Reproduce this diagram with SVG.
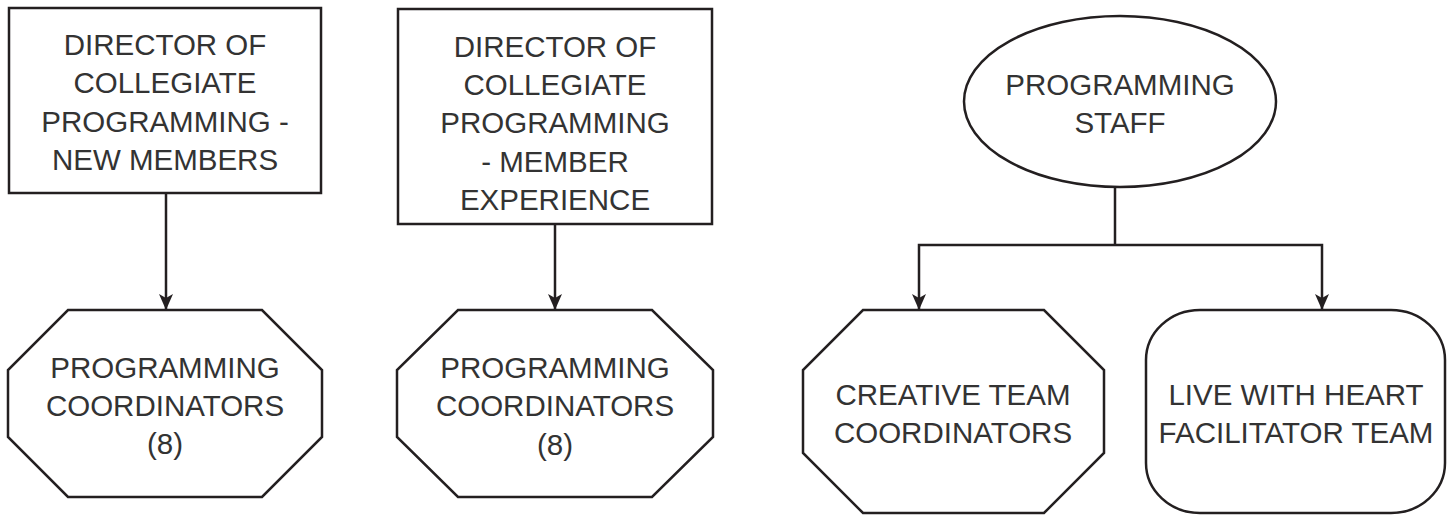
<svg xmlns="http://www.w3.org/2000/svg" width="1453" height="515" viewBox="0 0 1453 515">
<style>
.shape{fill:#fff;stroke:#231f20;stroke-width:2.5}
.conn{fill:none;stroke:#231f20;stroke-width:2.5}
.t{font-family:"Liberation Sans",Arial,sans-serif;font-size:29.5px;fill:#333;text-anchor:middle}
</style>
<defs>
<marker id="arr" markerUnits="userSpaceOnUse" markerWidth="16" markerHeight="14" viewBox="0 0 16 14" refX="15" refY="7" orient="auto">
<path d="M0,0 L16,7 L0,14 L4,7 Z" fill="#231f20"/>
</marker>
</defs>
<rect width="1453" height="515" fill="#fff"/>
<g id="connectors">
<path class="conn" d="M166,193 V309" marker-end="url(#arr)"/>
<path class="conn" d="M555,224 V309" marker-end="url(#arr)"/>
<path class="conn" d="M1115,187 V245"/>
<path class="conn" d="M1115,245 H919 V309" marker-end="url(#arr)"/>
<path class="conn" d="M1115,245 H1322 V309" marker-end="url(#arr)"/>
</g>
<g id="dir-new-members">
<rect class="shape" x="9" y="8" width="312" height="185"/>
<text class="t" x="165" y="55">DIRECTOR OF</text>
<text class="t" x="165" y="93">COLLEGIATE</text>
<text class="t" x="165" y="132">PROGRAMMING -</text>
<text class="t" x="165" y="170">NEW MEMBERS</text>
</g>
<g id="dir-member-experience">
<rect class="shape" x="398" y="9" width="314" height="215"/>
<text class="t" x="555" y="57">DIRECTOR OF</text>
<text class="t" x="555" y="95">COLLEGIATE</text>
<text class="t" x="555" y="133">PROGRAMMING</text>
<text class="t" x="555" y="172">- MEMBER</text>
<text class="t" x="555" y="210">EXPERIENCE</text>
</g>
<g id="coord-1">
<polygon class="shape" points="68,310 262,310 322,370 322,437 262,497 68,497 8,437 8,370"/>
<text class="t" x="165" y="378">PROGRAMMING</text>
<text class="t" x="165" y="416">COORDINATORS</text>
<text class="t" x="165" y="454">(8)</text>
</g>
<g id="coord-2">
<polygon class="shape" points="458,310 652,310 713,370 713,437 652,497 458,497 397,437 397,370"/>
<text class="t" x="555" y="378">PROGRAMMING</text>
<text class="t" x="555" y="416">COORDINATORS</text>
<text class="t" x="555" y="455">(8)</text>
</g>
<g id="programming-staff">
<ellipse class="shape" cx="1120" cy="101.5" rx="156" ry="85.5"/>
<text class="t" x="1120" y="95">PROGRAMMING</text>
<text class="t" x="1120" y="133">STAFF</text>
</g>
<g id="creative-team">
<polygon class="shape" points="863,310 1044,310 1104,370 1104,453 1044,513 863,513 803,453 803,370"/>
<text class="t" x="953" y="405">CREATIVE TEAM</text>
<text class="t" x="953" y="443">COORDINATORS</text>
</g>
<g id="live-with-heart">
<rect class="shape" x="1146" y="310" width="299" height="203" rx="54" ry="50"/>
<text class="t" x="1296" y="405">LIVE WITH HEART</text>
<text class="t" x="1296" y="443">FACILITATOR TEAM</text>
</g>
</svg>
